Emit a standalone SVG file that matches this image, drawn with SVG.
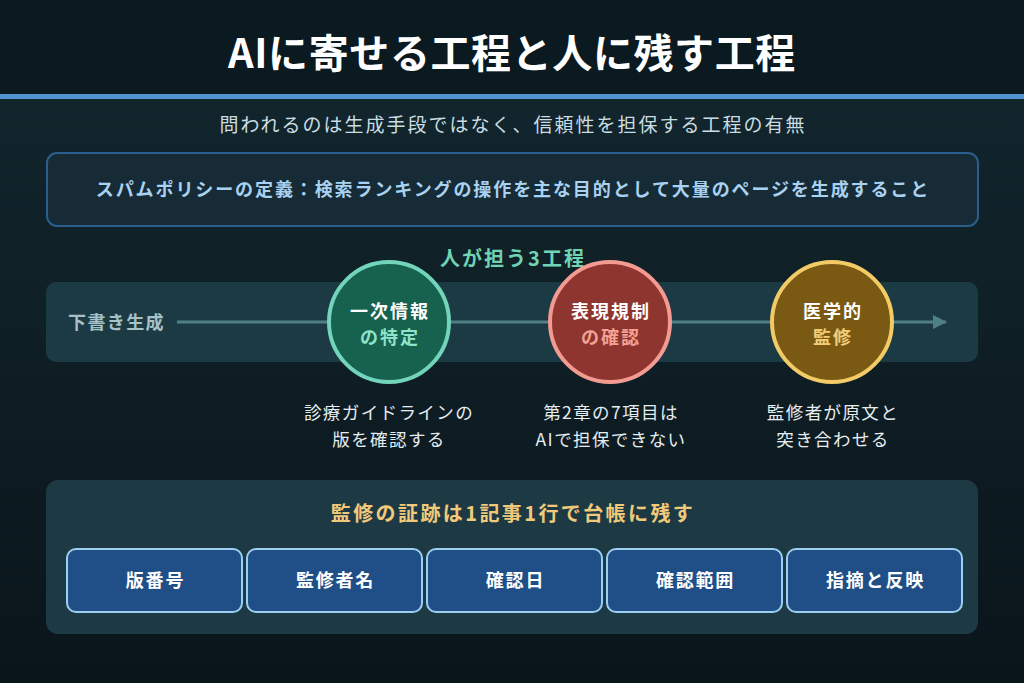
<svg xmlns="http://www.w3.org/2000/svg" width="1024" height="683" viewBox="0 0 1024 683">
<defs>
<linearGradient id="bg" x1="0" y1="0" x2="0" y2="1">
<stop offset="0" stop-color="#13282f"/>
<stop offset="1" stop-color="#0a151b"/>
</linearGradient>
<marker id="arr" markerWidth="14" markerHeight="14" refX="13" refY="7" orient="auto" markerUnits="userSpaceOnUse">
<path d="M0,0 L14,7 L0,14 Z" fill="#4f8086"/>
</marker>
<style>
text{font-family:"Noto Sans CJK JP","Noto Sans",sans-serif;}
.b{font-weight:700;}
.c{text-anchor:middle;}
.note{font-size:17.5px;fill:#e6edf0;letter-spacing:1.4px;}
.ct{font-size:18px;font-weight:700;text-anchor:middle;letter-spacing:2px;}
.field rect{fill:#1f4f86;stroke:#9ccff0;stroke-width:2;}
.field text{font-size:18px;font-weight:700;fill:#ffffff;text-anchor:middle;letter-spacing:1.8px;}
</style>
</defs>
<rect width="1024" height="683" fill="url(#bg)"/>
<rect width="1024" height="94" fill="#0b1920"/>
<rect y="94" width="1024" height="5" fill="#4f93d0"/>
<text class="b c" x="512" y="68" font-size="40" letter-spacing="0.6" fill="#ffffff">AIに寄せる工程と人に残す工程</text>
<text class="c" x="513" y="132" font-size="19" letter-spacing="2" fill="#c9dde2">問われるのは生成手段ではなく、信頼性を担保する工程の有無</text>

<g id="definition">
<rect x="47" y="153" width="931" height="73" rx="10" fill="#162b35" stroke="#2a5e8c" stroke-width="2"/>
<text class="b c" x="513" y="196" font-size="18" letter-spacing="1.9" fill="#a9d2f2">スパムポリシーの定義：検索ランキングの操作を主な目的として大量のページを生成すること</text>
</g>

<text class="b c" x="513" y="266" font-size="20" letter-spacing="2" fill="#6fd3b4">人が担う3工程</text>

<g id="band">
<rect x="46" y="282" width="932" height="80" rx="10" fill="#1c3a44"/>
<text class="b" x="68" y="329" font-size="18" letter-spacing="1.4" fill="#a6c2c6">下書き生成</text>
</g>

<g id="connectors">
<line x1="177" y1="322" x2="946" y2="322" stroke="#4f8086" stroke-width="3" marker-end="url(#arr)"/>
</g>

<g id="step1">
<circle cx="389" cy="322" r="60" fill="#17614f" stroke="#72d4bb" stroke-width="4"/>
<text class="ct" x="390" y="318" fill="#ffffff">一次情報</text>
<text class="ct" x="390" y="344" fill="#8fe3c8">の特定</text>
<text class="note c" x="389" y="419">診療ガイドラインの</text>
<text class="note c" x="389" y="446">版を確認する</text>
</g>

<g id="step2">
<circle cx="610" cy="322" r="60" fill="#8e3530" stroke="#f49b91" stroke-width="4"/>
<text class="ct" x="611" y="318" fill="#ffffff">表現規制</text>
<text class="ct" x="611" y="344" fill="#f3a294">の確認</text>
<text class="note c" x="611" y="419">第2章の7項目は</text>
<text class="note c" x="611" y="446">AIで担保できない</text>
</g>

<g id="step3">
<circle cx="832" cy="322" r="60" fill="#7a5a12" stroke="#f2cb66" stroke-width="4"/>
<text class="ct" x="833" y="318" fill="#ffffff">医学的</text>
<text class="ct" x="833" y="344" fill="#f1cd79">監修</text>
<text class="note c" x="833" y="419">監修者が原文と</text>
<text class="note c" x="833" y="446">突き合わせる</text>
</g>

<g id="ledger">
<rect x="46" y="480" width="932" height="154" rx="12" fill="#1d3a44"/>
<text class="b c" x="513" y="521" font-size="20" letter-spacing="2.4" fill="#f1c97a">監修の証跡は1記事1行で台帳に残す</text>
</g>
<g id="f1" class="field"><rect x="67" y="549" width="175" height="63" rx="9"/><text x="155.5" y="587">版番号</text></g>
<g id="f2" class="field"><rect x="247" y="549" width="175" height="63" rx="9"/><text x="335.5" y="587">監修者名</text></g>
<g id="f3" class="field"><rect x="427" y="549" width="175" height="63" rx="9"/><text x="515.5" y="587">確認日</text></g>
<g id="f4" class="field"><rect x="607" y="549" width="175" height="63" rx="9"/><text x="695.5" y="587">確認範囲</text></g>
<g id="f5" class="field"><rect x="787" y="549" width="175" height="63" rx="9"/><text x="875.5" y="587">指摘と反映</text></g>
</svg>
